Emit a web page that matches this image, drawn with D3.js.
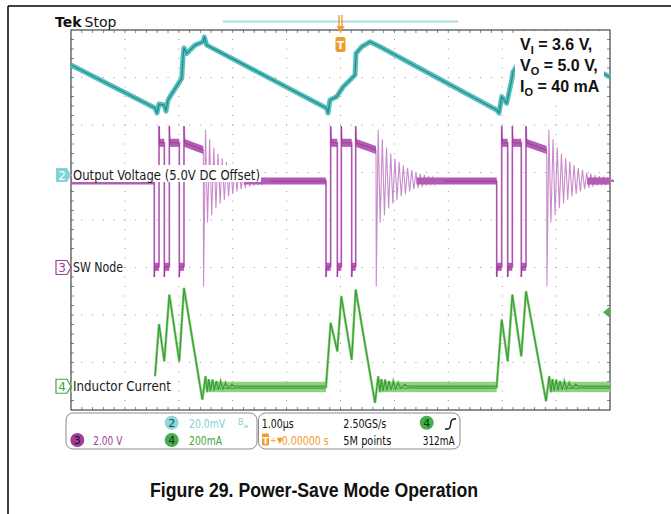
<!DOCTYPE html>
<html><head><meta charset="utf-8">
<script src="https://cdn.jsdelivr.net/npm/d3@7"></script>
<style>body{margin:0;background:#fff}svg{display:block}</style>
</head><body>
<svg id="c" width="671" height="514"></svg>
<script>
// ---------------- DATA ----------------
// Channel 2: output voltage ripple (mV relative to channel marker), time in µs
const vOutRipple = [
 [0.000,46.3],[1.558,28.2],[1.596,26.1],[1.633,29.9],[1.725,29.5],[1.763,26.9],[1.800,31.6],[1.837,33.0],
 [2.054,40.7],[2.078,49.7],[2.096,53.5],[2.146,51.2],[2.301,54.7],[2.455,56.1],[2.473,58.1],[2.518,54.7],
 [4.744,28.1],[4.768,26.1],[4.805,31.6],[4.929,33.0],[5.052,37.2],[5.269,42.1],[5.288,51.2],[5.393,54.0],
 [5.547,56.1],[5.733,54.0],[7.898,27.4],[7.941,26.1],[7.991,33.0],[8.083,30.2],[8.176,40.0],[8.200,43.4],
 [8.423,51.8],[8.701,56.0],[8.850,54.7],[10.000,41.3]
];
// Channel 3: switch node (V)
const swBurstStart = [1.545, 4.731, 7.898];
// relative times (µs): rise1, fall2, rise2, fall3, rise3, end of last high
const swBurstEdges = [
 [0.088,0.186,0.279,0.464,0.551,0.910],
 [0.087,0.210,0.284,0.477,0.551,0.928],
 [0.093,0.204,0.290,0.456,0.544,0.928]
];
const swIdle = 3.64, swHigh = 5.25, swHighEnd = 4.95, swLow = 0.03, swFallSpike = -0.4, swRiseSpike = 5.95;
// ringing after each burst: [dt µs, V]
const swRing = [
 [0.004,-0.8],[0.040,5.8],[0.078,1.9],[0.117,5.4],[0.156,2.2],[0.195,5.05],[0.234,2.5],[0.273,4.8],
 [0.312,2.7],[0.351,4.6],[0.390,2.85],[0.429,4.45],[0.468,3.0],[0.507,4.3],[0.546,3.1],[0.585,4.2],
 [0.624,3.2],[0.663,4.1],[0.702,3.3],[0.741,4.0],[0.780,3.35],[0.819,3.95],[0.858,3.4],[0.897,3.9],
 [0.936,3.45],[0.975,3.85],[1.014,3.5],[1.053,3.8],[1.092,3.5],[1.131,3.75],[1.170,3.55],[1.209,3.7]
];
// Channel 4: inductor current (mA)
const ilBursts = [
 [[1.545,0],[1.633,262],[1.731,105],[1.824,386],[2.009,105],[2.096,414],[2.436,-56]],
 [[4.731,0],[4.818,267],[4.941,147],[5.015,379],[5.208,112],[5.282,407],[5.640,-70]],
 [[7.898,0],[7.991,281],[8.102,105],[8.188,386],[8.354,126],[8.442,400],[8.813,-63]]
];
const ilRing = [[0.06,42],[0.09,-25],[0.12,30],[0.15,-20],[0.19,28],[0.22,-18],[0.26,22],[0.30,-15],
 [0.34,20],[0.38,-12],[0.43,15],[0.48,-10],[0.55,8],[0.62,-5]];
const ilBase = -3, ilNoise = 22;

// channels
const channelNames = ["Output Voltage (5.0V DC Offset)", "SW Node", "Inductor Current"];
const channelIds = ["2", "3", "4"];
const channelPos = [0.947, -1, -3.5];      // divisions
const channelPerDiv = [20, 2, 200];         // mV, V, mA per division

// readouts
const readLeft = [["2","20.0mV"],["4","200mA"],["3","2.00 V"]];
const readRight = ["1.00µs","2.50GS/s","0.00000 s","5M points","312mA"];
const conditions = [["V","I"," = 3.6 V,"],["V","O"," = 5.0 V,"],["I","O"," = 40 mA"]];
const caption = "Figure 29. Power-Save Mode Operation";

// ---------------- SCALES ----------------
const svg = d3.select("#c");
const x = d3.scaleLinear().domain([0,10]).range([71,610]);
const yDiv = d3.scaleLinear().domain([-4,4]).range([410,30]);
const yCh = (i, v) => yDiv(channelPos[i] + v / channelPerDiv[i]);
const lineFor = i => d3.line().x(d => x(d[0])).y(d => yCh(i, d[1]));

// frame
svg.append("line").attr("x1",8).attr("y1",6).attr("x2",671).attr("y2",6).attr("stroke","#000").attr("stroke-width",1.5);
svg.append("line").attr("x1",8).attr("y1",6).attr("x2",8).attr("y2",514).attr("stroke","#000").attr("stroke-width",1.5);

// ---------------- GRATICULE ----------------
const grid = svg.append("g");
const dotColor = "#9a9a9a";
for (let i = 1; i < 10; i++) {
  for (let k = 1; k < 40; k++) {
    grid.append("rect").attr("x", x(i)-0.5).attr("y", yDiv(-4 + k*0.2)-0.5).attr("width",1).attr("height",1).attr("fill",dotColor);
  }
}
for (let j = 1; j < 8; j++) {
  for (let k = 1; k < 50; k++) {
    grid.append("rect").attr("x", x(k*0.2)-0.5).attr("y", yDiv(-4 + j)-0.5).attr("width",1).attr("height",1).attr("fill",dotColor);
  }
}
for (let k = 1; k < 50; k++) {
  const xx = x(k*0.2);
  grid.append("line").attr("x1",xx).attr("x2",xx).attr("y1",yDiv(4)).attr("y2",yDiv(4)+3).attr("stroke","#666").attr("stroke-width",0.8);
  grid.append("line").attr("x1",xx).attr("x2",xx).attr("y1",yDiv(-4)).attr("y2",yDiv(-4)-3).attr("stroke","#666").attr("stroke-width",0.8);
}
for (let k = 1; k < 40; k++) {
  const yy = yDiv(-4 + k*0.2);
  grid.append("line").attr("x1",x(0)).attr("x2",x(0)+3).attr("y1",yy).attr("y2",yy).attr("stroke","#666").attr("stroke-width",0.8);
  grid.append("line").attr("x1",x(10)).attr("x2",x(10)-3).attr("y1",yy).attr("y2",yy).attr("stroke","#666").attr("stroke-width",0.8);
}
grid.append("rect").attr("x",x(0)).attr("y",yDiv(4)).attr("width",x(10)-x(0)).attr("height",yDiv(-4)-yDiv(4))
  .attr("fill","none").attr("stroke","#3d4a4a").attr("stroke-width",1.2);

// ---------------- TRACES ----------------
const traces = svg.append("g");

// Channel 4 (inductor current)
const ilPts = [[0, ilBase]];
const ilBands = [];
let bandStart = 0;
ilBursts.forEach(b => {
  ilBands.push([bandStart, b[0][0]]);
  ilPts.push([b[0][0], ilBase]);
  b.forEach(p => ilPts.push(p));
  const tr = b[b.length-1][0];
  ilRing.forEach(([dt, v]) => ilPts.push([tr + dt, v]));
  ilPts.push([tr + 0.7, ilBase]);
  bandStart = tr + 0.08;
});
ilPts.push([10, ilBase]);
ilBands.push([bandStart, 10]);
ilBands.forEach(([a, b]) => {
  traces.append("rect").attr("x", x(a)).attr("width", x(b)-x(a))
    .attr("y", yCh(2, ilBase + ilNoise)).attr("height", yCh(2, ilBase - ilNoise) - yCh(2, ilBase + ilNoise))
    .attr("fill", "#8fd27f");
  [-6, 5].forEach(o => traces.append("line").attr("x1", x(a)).attr("x2", x(b))
    .attr("y1", yCh(2, ilBase + o)).attr("y2", yCh(2, ilBase + o)).attr("stroke", "#46a340").attr("stroke-width", 1.1));
});
traces.append("path").datum(ilPts).attr("d", lineFor(2)).attr("fill","none").attr("stroke","#8ccf7e").attr("stroke-width",2.6);
traces.append("path").datum(ilPts).attr("d", lineFor(2)).attr("fill","none").attr("stroke","#3a9e36").attr("stroke-width",1.2);

// Channel 3 (switch node)
const swMain = [[0, swIdle]];
const swRings = [];
const swBands = [];
let idleStart = 0;
swBurstStart.forEach((s, b) => {
  const e = swBurstEdges[b];
  swBands.push([idleStart, s, swIdle, swIdle, 0.15]);
  swMain.push([s, swIdle], [s, swFallSpike], [s + 0.01, swLow]);
  let last = 0;
  for (let k = 0; k < 5; k++) {
    const t = s + e[k];
    if (k % 2 === 0) {
      swBands.push([s + last, t, swLow, swLow, 0.17]);
      swMain.push([t, swLow], [t, swRiseSpike], [t + 0.01, swHigh]);
    } else {
      swBands.push([s + last, t, swHigh, swHigh, 0.17]);
      swMain.push([t, swHigh], [t, swFallSpike], [t + 0.01, swLow]);
    }
    last = e[k];
  }
  swBands.push([s + last, s + e[5], swHigh, swHighEnd, 0.17]);
  swMain.push([s + e[5], swHighEnd]);
  const ring = [[s + e[5], swHighEnd]];
  swRing.forEach(([dt, v]) => ring.push([s + e[5] + dt, v]));
  const rEnd = s + e[5] + swRing[swRing.length-1][0] + 0.04;
  ring.push([rEnd, swIdle]);
  swRings.push(ring);
  swMain.push(null);
  swMain.push([rEnd, swIdle]);
  idleStart = s + e[5] + 0.75;
});
swMain.push([10, swIdle]);
swBands.push([idleStart, 10, swIdle, swIdle, 0.15]);

const swLine = d3.line().defined(d => d !== null).x(d => x(d[0])).y(d => yCh(1, d[1]));
traces.append("path").datum(swMain).attr("d", swLine).attr("fill","none").attr("stroke","#dcaedd").attr("stroke-width",2);
swRings.forEach(r => {
  traces.append("path").datum(r).attr("d", lineFor(1)).attr("fill","none").attr("stroke","#c88ccb").attr("stroke-width",1.1);
});
swBands.forEach(([a, b, v0, v1, n]) => {
  const poly = [[a, v0 + n], [b, v1 + n], [b, v1 - n], [a, v0 - n]];
  traces.append("path").datum(poly).attr("d", d3.line().x(d => x(d[0])).y(d => yCh(1, d[1])).curve(d3.curveLinearClosed))
    .attr("fill", "#b45cb4");
});
traces.append("path").datum(swMain).attr("d", swLine).attr("fill","none").attr("stroke","#9c379c").attr("stroke-width",0.9);

// Channel 2 (output voltage ripple)
traces.append("path").datum(vOutRipple).attr("d", lineFor(0)).attr("fill","none").attr("stroke","#58bfbf").attr("stroke-width",5).attr("stroke-linejoin","round");
traces.append("path").datum(vOutRipple).attr("d", lineFor(0)).attr("fill","none").attr("stroke","#23898a").attr("stroke-width",1.2).attr("stroke-linejoin","round");

// ---------------- LABELS ----------------
const scopeFont = "DejaVu Sans, Verdana, sans-serif";
const armFont = "Liberation Sans, Arial, Helvetica, sans-serif";

// Tek Stop
const tek = svg.append("text").attr("x",55).attr("y",27).attr("font-family",scopeFont).attr("font-size",14).attr("fill","#111");
tek.append("tspan").attr("font-weight","bold").text("Tek");
tek.append("tspan").attr("dx",3).text("Stop");

// record bar + trigger position marker
svg.append("line").attr("x1",223).attr("x2",458).attr("y1",21.5).attr("y2",21.5).attr("stroke","#a9dfe0").attr("stroke-width",2);
const tx = x(5);
svg.append("line").attr("x1",tx-1.5).attr("x2",tx-1.5).attr("y1",15).attr("y2",27).attr("stroke","#f39a2e").attr("stroke-width",1.4);
svg.append("line").attr("x1",tx+1.5).attr("x2",tx+1.5).attr("y1",15).attr("y2",27).attr("stroke","#f39a2e").attr("stroke-width",1.4);
svg.append("path").attr("d",`M${tx-4},26 L${tx+4},26 L${tx},33 Z`).attr("fill","#f39a2e");
svg.append("rect").attr("x",tx-5).attr("y",37).attr("width",10).attr("height",15).attr("rx",2).attr("fill","#f39a2e");
svg.append("text").attr("x",tx).attr("y",49).attr("text-anchor","middle").attr("font-family",scopeFont).attr("font-weight","bold")
  .attr("font-size",11).attr("fill","#fff").text("T");

// conditions box
svg.append("rect").attr("x",515).attr("y",31).attr("width",89).attr("height",72).attr("fill","#fff");
conditions.forEach((c, i) => {
  const t = svg.append("text").attr("x",520).attr("y",50 + i*21.2).attr("font-family",armFont).attr("font-weight","bold")
    .attr("font-size",16).attr("fill","#111");
  t.append("tspan").text(c[0]);
  t.append("tspan").attr("font-size",11).attr("dy",4).text(c[1]);
  t.append("tspan").attr("dy",-4).text(c[2]);
});

// channel labels
const labelW = [187, 50, 98];
channelNames.forEach((name, i) => {
  const cy = yCh(i, 0);
  const c = ["#7dd3d8", "#a03c9a", "#3fa63f"][i];
  svg.append("rect").attr("x",72).attr("y",cy-10).attr("width",labelW[i]+2).attr("height",17).attr("fill","#fff");
  const pts = `${56},${cy-7} ${67},${cy-7} ${71},${cy} ${67},${cy+7} ${56},${cy+7}`;
  if (i === 0) {
    svg.append("polygon").attr("points",pts).attr("fill",c);
    svg.append("text").attr("x",62).attr("y",cy+4.5).attr("text-anchor","middle").attr("font-family",scopeFont)
      .attr("font-size",12).attr("fill","#fff").text(channelIds[i]);
  } else {
    svg.append("polygon").attr("points",pts).attr("fill","#fff").attr("stroke",c).attr("stroke-width",1.2);
    svg.append("text").attr("x",62).attr("y",cy+4.5).attr("text-anchor","middle").attr("font-family",scopeFont)
      .attr("font-size",12).attr("fill",c).text(channelIds[i]);
  }
  svg.append("text").attr("x",73).attr("y",cy+4.5).attr("font-family",scopeFont).attr("font-size",14)
    .attr("textLength",labelW[i]).attr("lengthAdjust","spacingAndGlyphs").attr("fill","#1a1a1a").text(name);
});

// trigger level arrow (channel 4, 312 mA)
const tly = yCh(2, 312);
svg.append("path").attr("d",`M603,${tly} L609,${tly-5} L609,${tly+5} Z`).attr("fill","#4cb04c");
svg.append("line").attr("x1",606).attr("x2",611).attr("y1",tly).attr("y2",tly).attr("stroke","#4cb04c").attr("stroke-width",2);

// ---------------- READOUT BOXES ----------------
svg.append("rect").attr("x",66).attr("y",413).attr("width",191).attr("height",36).attr("rx",7).attr("fill","#fff").attr("stroke","#8a8a8a");
svg.append("rect").attr("x",258.5).attr("y",413).attr("width",201.5).attr("height",36).attr("rx",7).attr("fill","#fff").attr("stroke","#8a8a8a");
const badge = (cx, cy, fill, label, tc) => {
  svg.append("circle").attr("cx",cx).attr("cy",cy).attr("r",7).attr("fill",fill);
  svg.append("text").attr("x",cx).attr("y",cy+4).attr("text-anchor","middle").attr("font-family",scopeFont)
    .attr("font-size",11).attr("fill",tc).text(label);
};
const rtxt = (xx, yy, s, col, w, fs) => svg.append("text").attr("x",xx).attr("y",yy).attr("font-family",scopeFont)
  .attr("font-size",fs || 13).attr("fill",col).attr("textLength",w).attr("lengthAdjust","spacingAndGlyphs").text(s);
badge(171.7, 422.7, "#8fd6da", readLeft[0][0], "#1d4d50");
rtxt(189, 428, readLeft[0][1], "#84cfd3", 36, 12);
const bw = svg.append("text").attr("x",238).attr("y",425).attr("font-family",scopeFont).attr("font-size",8).attr("fill","#84cfd3");
bw.append("tspan").text("B");
bw.append("tspan").attr("font-size",6).attr("dy",3).text("w");
badge(171.7, 440, "#44ad4c", readLeft[1][0], "#103a12");
rtxt(189, 445, readLeft[1][1], "#3fa63f", 33);
badge(77.3, 440, "#a03c9a", readLeft[2][0], "#2a0a28");
rtxt(93.3, 445, readLeft[2][1], "#a03c9a", 29);

rtxt(261.7, 428, readRight[0], "#111", 32);
rtxt(343.3, 428, readRight[1], "#111", 43);
badge(426.7, 422.7, "#44ad4c", "4", "#103a12");
svg.append("path").attr("d","M445,429 L448,429 Q450,429 450.5,425 Q451,419 454,419 L456,419").attr("fill","none").attr("stroke","#111").attr("stroke-width",1.4);
svg.append("rect").attr("x",262).attr("y",433.5).attr("width",7).attr("height",12).attr("rx",1).attr("fill","#f39a2e");
svg.append("text").attr("x",265.5).attr("y",443.5).attr("text-anchor","middle").attr("font-family",scopeFont).attr("font-size",9).attr("font-weight","bold").attr("fill","#fff").text("T");
svg.append("text").attr("x",270).attr("y",443).attr("font-family",scopeFont).attr("font-size",8).attr("fill","#f39a2e").text("+▼");
rtxt(281.7, 445, readRight[2], "#f39a2e", 47);
rtxt(343.3, 445, readRight[3], "#111", 48);
rtxt(422.7, 445, readRight[4], "#111", 32);

// caption
svg.append("text").attr("x",150).attr("y",497).attr("font-family",armFont).attr("font-weight","bold")
  .attr("font-size",20.5).attr("textLength",328).attr("lengthAdjust","spacingAndGlyphs").attr("fill","#111").text(caption);
</script>
</body></html>
